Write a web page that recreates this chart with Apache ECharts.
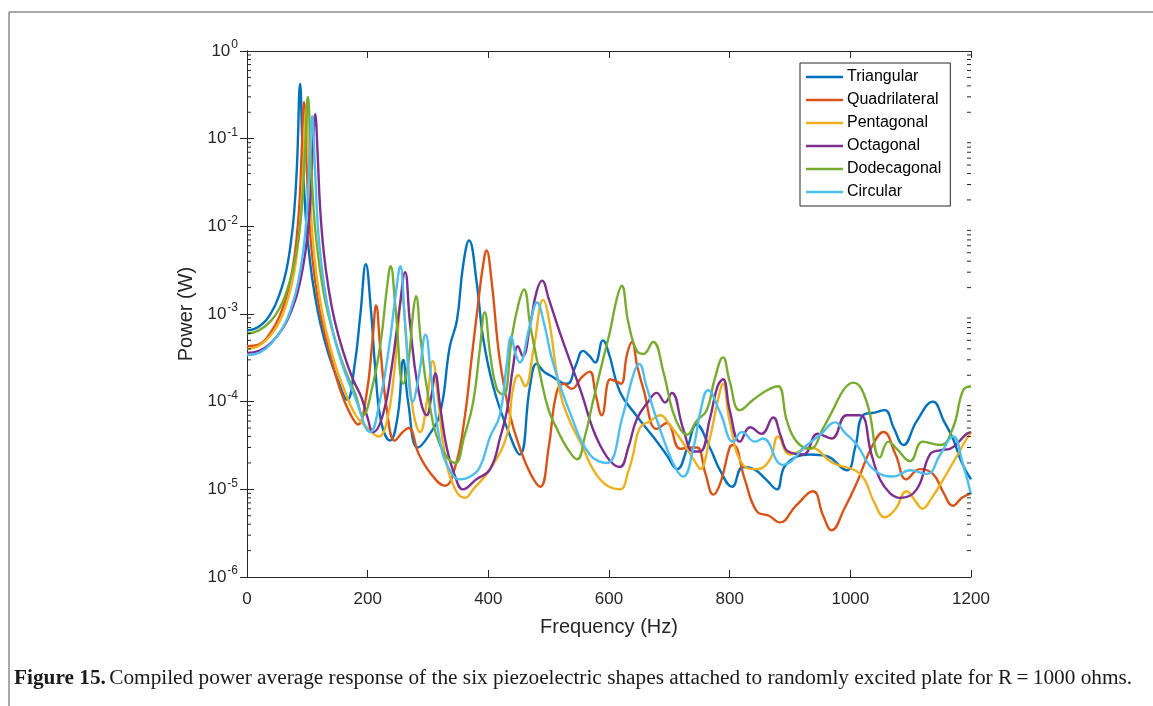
<!DOCTYPE html>
<html>
<head>
<meta charset="utf-8">
<title>Power response</title>
<script src="https://cdn.jsdelivr.net/npm/echarts@6/dist/echarts.min.js"></script>
<style>
  html, body { margin: 0; padding: 0; background: #fff; }
  #chart { width: 1153px; height: 706px; }
</style>
</head>
<body>
<div id="chart"></div>
<script>
// Series names and colours (MATLAB default line order)
const seriesNames = ['Triangular', 'Quadrilateral', 'Pentagonal', 'Octagonal', 'Dodecagonal', 'Circular'];
const seriesColors = ['#0072BD', '#D95319', '#EDB120', '#7E2F8E', '#77AC30', '#4DBEEE'];

// X-axis tick values (Hz)
const freqTicks = [0, 200, 400, 600, 800, 1000, 1200];
// Y-axis decades (W)
const powerDecades = [1e-6, 1e-5, 1e-4, 1e-3, 1e-2, 1e-1, 1];

// Triangular: frequency (Hz) / power (W)
const triFreq = [0,20,40,55,65,72,78,83,88,92,97,104,112,122,135,150,166,178,188,197,205,213,222,237,250,259,267,283,300,320,336,348,358,368,381,391,408,431,452,469,480,492,502,530,545,557,568,577,590,600,618,645,673,695,713,730,745,767,785,804,822,840,860,878,893,933,960,994,1008,1021,1040,1057,1072,1088,1110,1137,1155,1170,1185,1200];
const triPower = [6.5e-4,7.2e-4,1.03e-3,1.76e-3,3.1e-3,6e-3,1.4e-2,5.3e-2,0.42,7.5e-2,1.4e-2,4.2e-3,1.7e-3,7.6e-4,3.5e-4,1.8e-4,1.05e-4,2.5e-4,1e-3,3.7e-3,1.2e-3,2.2e-4,6e-5,3.6e-5,7e-5,3e-4,1e-4,3e-5,4e-5,7.4e-5,4.2e-4,8.5e-4,3.5e-3,6.9e-3,2.2e-3,5.5e-4,1.5e-4,5e-5,2.5e-5,1.5e-4,2.7e-4,2.2e-4,2e-4,1.6e-4,2.6e-4,3.8e-4,3.3e-4,2.8e-4,5e-4,3.5e-4,1.3e-4,7e-5,4e-5,2.5e-5,1.7e-5,3e-5,5.5e-5,3e-5,1.6e-5,1.07e-5,1.8e-5,1.7e-5,1.3e-5,1e-5,1.9e-5,2.5e-5,2.4e-5,1.65e-5,3e-5,7e-5,7.5e-5,8e-5,5e-5,3.2e-5,6e-5,1e-4,6e-5,3.8e-5,2e-5,1.3e-5];

// Quadrilateral
const quadFreq = [0,20,40,55,65,75,82,87,91,94.5,98,102,108,116,125,140,154,170,184,198,208,214,221,232,245,258,268,285,305,328,345,360,372,383,391,397,405,419,436,452,470,486,500,513,525,538,555,568,578,588,602,612,620,630,638,647,657,679,696,718,735,746,760,773,785,800,806,825,845,865,883,910,938,955,969,990,1011,1035,1055,1075,1093,1115,1137,1155,1170,1185,1200];
const quadPower = [4.3e-4,4.5e-4,6.3e-4,9.8e-4,1.55e-3,3.1e-3,7e-3,1.85e-2,8e-2,0.26,7.5e-2,1.6e-2,4.6e-3,1.7e-3,7.7e-4,3e-4,1.4e-4,7.5e-5,5.5e-5,1.2e-4,5e-4,1.25e-3,4e-4,8e-5,3.6e-5,4.5e-5,5e-5,2.5e-5,1.5e-5,1.1e-5,1.8e-5,6e-5,3e-4,1.3e-3,3.5e-3,5.3e-3,2.5e-3,3e-4,7e-5,3e-5,1.5e-5,1.07e-5,3e-5,1.26e-4,1.6e-4,1.4e-4,1.9e-4,2.2e-4,1.2e-4,7e-5,1.8e-4,1.7e-4,1.6e-4,3.5e-4,4.8e-4,2.5e-4,1.4e-4,4.9e-5,5.7e-5,2.9e-5,3e-5,3e-5,1.5e-5,8.7e-6,1.2e-5,3e-5,3.2e-5,1.3e-5,5.6e-6,5e-6,4.2e-6,6.5e-6,9.5e-6,5e-6,3.4e-6,6e-6,1.2e-5,3e-5,4.5e-5,2.5e-5,1.3e-5,1.7e-5,1.5e-5,9e-6,6.5e-6,8e-6,9e-6];

// Pentagonal
const pentFreq = [0,20,40,55,65,75,82,88,93,98,102,106,112,120,130,145,160,180,200,218,232,245,257,265,275,287,298,308,316,328,345,361,375,403,431,440,450,461,475,491,500,519,535,552,585,618,632,640,651,668,685,700,718,746,751,767,780,789,800,822,845,867,880,900,933,971,1016,1040,1057,1075,1093,1110,1119,1135,1154,1175,1193,1200];
const pentPower = [4e-4,4.35e-4,5.8e-4,8.5e-4,1.28e-3,2.3e-3,4.4e-3,1.07e-2,4e-2,0.22,5.8e-2,1.4e-2,4.3e-3,1.6e-3,6.9e-4,2.8e-4,1.44e-4,7e-5,5e-5,4e-5,6e-5,2.5e-4,1.5e-3,4e-4,8e-5,4.5e-5,1e-4,2.9e-4,1.2e-4,2.5e-5,1e-5,8e-6,1e-5,1.7e-5,4.2e-5,1.3e-4,2e-4,1.5e-4,4e-4,1.45e-3,9e-4,1.26e-4,6e-5,3.5e-5,1.3e-5,1e-5,1.6e-5,2.5e-5,5e-5,6e-5,7e-5,5.5e-5,3.8e-5,1.9e-5,1.7e-5,3.8e-5,1e-4,1.6e-4,6e-5,1.9e-5,1.7e-5,2.2e-5,4e-5,2.5e-5,3e-5,2e-5,1.5e-5,7e-6,4.8e-6,6e-6,9.5e-6,7e-6,6e-6,8e-6,1.3e-5,2.3e-5,3.8e-5,4.5e-5];

// Octagonal
const octFreq = [0,20,40,60,75,85,93,100,105,109,113,117,121,127,135,145,160,175,190,200,209,225,240,253,262,270,283,298,306,312,320,331,345,358,380,403,420,431,441,449,457,470,480,489,500,519,552,585,618,632,646,665,679,693,704,723,740,751,767,780,789,800,817,834,853,872,885,897,922,946,969,994,1016,1035,1049,1066,1082,1110,1132,1150,1165,1193,1200];
const octPower = [3.6e-4,3.8e-4,4.7e-4,7e-4,1.15e-3,1.9e-3,3.5e-3,7.6e-3,1.9e-2,7.4e-2,0.19,6.9e-2,1.7e-2,5.2e-3,2e-3,8.6e-4,3.6e-4,1.84e-4,1.1e-4,6.5e-5,4.5e-5,7e-5,2.5e-4,1.2e-3,3e-3,8e-4,1.5e-4,7e-5,1.2e-4,2.1e-4,9e-5,3e-5,1.4e-5,1e-5,1.3e-5,1.7e-5,4e-5,8e-5,2.5e-4,4.3e-4,3.3e-4,8e-4,1.8e-3,2.4e-3,1.5e-3,6e-4,1.4e-4,3.2e-5,1.8e-5,3e-5,6.3e-5,1e-4,1.26e-4,9.8e-5,1.26e-4,4.9e-5,2.7e-5,2.7e-5,6.3e-5,1.5e-4,1.8e-4,8e-5,3.5e-5,5.1e-5,4.3e-5,6.6e-5,4e-5,2.7e-5,2.5e-5,4.3e-5,3.8e-5,7e-5,7e-5,2.5e-5,1.3e-5,9e-6,8e-6,1e-5,2.5e-5,2.8e-5,2.9e-5,4.3e-5,4.5e-5];

// Dodecagonal
const dodFreq = [0,20,40,55,65,75,83,90,96,101,105,110,116,125,135,150,165,180,192,208,222,232,238,246,259,268,275,280,288,300,320,345,360,375,386,394,403,414,425,439,450,459,470,486,500,513,530,547,560,573,590,602,613,621,632,646,657,673,690,705,718,729,745,762,775,789,800,817,839,862,880,895,911,933,955,971,990,1005,1027,1049,1063,1077,1099,1120,1149,1170,1187,1200];
const dodPower = [6e-4,6.5e-4,8.4e-4,1.2e-3,1.75e-3,3e-3,5.7e-3,1.4e-2,6.4e-2,0.3,9e-2,1.7e-2,5.9e-3,2.1e-3,9.7e-4,4.1e-4,2.1e-4,1.2e-4,7e-5,1.5e-4,5e-4,2e-3,3.5e-3,1.2e-3,1.6e-4,3e-4,1e-3,1.6e-3,5e-4,1.2e-4,3.2e-5,2e-5,4e-5,1e-4,4e-4,1.05e-3,3.5e-4,1.4e-4,1.2e-4,5.5e-4,1.3e-3,1.9e-3,7e-4,2e-4,8e-5,5e-5,3e-5,2.2e-5,4e-5,9.8e-5,3e-4,6.5e-4,1.5e-3,2.1e-3,8e-4,3.8e-4,3.5e-4,4.8e-4,2.2e-4,8e-5,4.9e-5,4.2e-5,6e-5,8e-5,1.8e-4,3.2e-4,1.7e-4,8e-5,1.05e-4,1.35e-4,1.5e-4,6e-5,3.5e-5,2.9e-5,5e-5,8e-5,1.4e-4,1.65e-4,1e-4,2.3e-5,3.5e-5,2.9e-5,2.1e-5,3.5e-5,3.2e-5,5e-5,1.35e-4,1.5e-4];

// Circular
const circFreq = [0,20,40,60,75,85,93,99,104,108,112,117,124,132,145,160,180,204,220,235,247,254,262,275,285,296,305,320,335,353,370,386,403,419,430,438,445,452,468,481,492,507,535,568,596,623,640,650,662,679,706,723,740,752,764,784,806,820,842,855,888,928,950,975,990,1011,1038,1071,1099,1127,1149,1170,1187,1200];
const circPower = [3.4e-4,3.6e-4,4.6e-4,7.1e-4,1.27e-3,2.35e-3,5.1e-3,1.33e-2,6.4e-2,0.18,6e-2,1.1e-2,3.4e-3,1.4e-3,5.3e-4,2.4e-4,1.08e-4,4.5e-5,1e-4,4e-4,1.8e-3,3.5e-3,8e-4,1e-4,2e-4,5.8e-4,2e-4,3.5e-5,1.7e-5,1.3e-5,1.4e-5,1.8e-5,4e-5,7e-5,2.5e-4,5.5e-4,3.5e-4,2.8e-4,7e-4,1.35e-3,8e-4,2.8e-4,7.6e-5,2.5e-5,2e-5,7e-5,2e-4,2.7e-4,1.5e-4,6.3e-5,2e-5,1.4e-5,3e-5,8e-5,1.35e-4,7.6e-5,3.5e-5,4.5e-5,3.5e-5,3.8e-5,1.9e-5,3.2e-5,4.2e-5,5.8e-5,4.5e-5,3.2e-5,1.7e-5,1.4e-5,1.65e-5,1.5e-5,2.5e-5,4e-5,1.9e-5,8.7e-6];

const freqSets = [triFreq, quadFreq, pentFreq, octFreq, dodFreq, circFreq];
const powerSets = [triPower, quadPower, pentPower, octPower, dodPower, circPower];

// Minor log ticks (2..9 within each decade)
const minorTickValues = [];
for (let e = -6; e < 0; e++) {
  for (let m = 2; m <= 9; m++) minorTickValues.push(m * Math.pow(10, e));
}

const axisColor = '#262626';
const tickFont = 'Liberation Sans, Arial, sans-serif';

function expLabel(v) {
  const e = Math.round(Math.log10(v));
  return '{b|10}{e|' + e + '}';
}

const lineSeries = seriesNames.map((name, i) => ({
  name: name,
  type: 'line',
  xAxisIndex: 0,
  yAxisIndex: 0,
  data: freqSets[i].map((f, k) => [f, powerSets[i][k]]),
  showSymbol: false,
  smooth: 0.45,
  lineStyle: { color: seriesColors[i], width: 2.4 },
  itemStyle: { color: seriesColors[i] },
  z: 3 + i,
  animation: false
}));

// Minor ticks drawn on the left and right edges of the box
const minorTickSeries = {
  type: 'custom',
  xAxisIndex: 0,
  yAxisIndex: 0,
  silent: true,
  clip: false,
  animation: false,
  data: minorTickValues.map(v => [0, v]),
  renderItem: function (params, api) {
    const v = api.value(1);
    const pl = api.coord([0, v]);
    const pr = api.coord([1200, v]);
    return {
      type: 'group',
      children: [
        { type: 'line', shape: { x1: pl[0], y1: pl[1], x2: pl[0] + 4, y2: pl[1] }, style: { stroke: axisColor, lineWidth: 1 } },
        { type: 'line', shape: { x1: pr[0], y1: pr[1], x2: pr[0] - 4, y2: pr[1] }, style: { stroke: axisColor, lineWidth: 1 } }
      ]
    };
  },
  z: 10
};

const chart = echarts.init(document.getElementById('chart'), null, { renderer: 'canvas' });

chart.setOption({
  backgroundColor: '#ffffff',
  animation: false,
  grid: { left: 247, right: 182, top: 51, bottom: 129, containLabel: false },
  legend: {
    data: seriesNames.map(n => ({ name: n, icon: 'rect' })),
    orient: 'vertical',
    left: 800,
    top: 63,
    itemWidth: 37,
    itemHeight: 2.5,
    itemGap: 7,
    padding: [6, 9, 6, 6],
    borderColor: axisColor,
    borderWidth: 1,
    backgroundColor: '#ffffff',
    textStyle: { fontFamily: tickFont, fontSize: 16, color: '#000000', padding: [0, 0, 0, -1] }
  },
  xAxis: [
    {
      type: 'value',
      min: freqTicks[0],
      max: freqTicks[freqTicks.length - 1],
      interval: 200,
      position: 'bottom',
      name: 'Frequency (Hz)',
      nameLocation: 'middle',
      nameGap: 40,
      nameTextStyle: { fontFamily: tickFont, fontSize: 20, color: axisColor },
      axisLine: { show: true, lineStyle: { color: axisColor, width: 1 } },
      axisTick: { show: true, inside: true, length: 7, lineStyle: { color: axisColor } },
      axisLabel: { fontFamily: tickFont, fontSize: 17, color: axisColor, margin: 14, formatter: v => String(v) },
      splitLine: { show: false }
    },
    {
      type: 'value',
      min: freqTicks[0],
      max: freqTicks[freqTicks.length - 1],
      interval: 200,
      position: 'top',
      axisLine: { show: true, lineStyle: { color: axisColor, width: 1 } },
      axisTick: { show: true, inside: true, length: 7, lineStyle: { color: axisColor } },
      axisLabel: { show: false },
      splitLine: { show: false }
    }
  ],
  yAxis: [
    {
      type: 'log',
      logBase: 10,
      min: powerDecades[0],
      max: powerDecades[powerDecades.length - 1],
      position: 'left',
      name: 'Power (W)',
      nameLocation: 'middle',
      nameGap: 47,
      nameRotate: 90,
      nameTextStyle: { fontFamily: tickFont, fontSize: 20, color: axisColor },
      axisLine: { show: true, lineStyle: { color: axisColor, width: 1 } },
      axisTick: { show: true, inside: true, length: 7, lineStyle: { color: axisColor } },
      axisLabel: {
        margin: 9,
        formatter: expLabel,
        rich: {
          b: { fontFamily: tickFont, fontSize: 17, color: axisColor },
          e: { fontFamily: tickFont, fontSize: 12, color: axisColor, padding: [0, 0, 12, 1] }
        }
      },
      splitLine: { show: false }
    },
    {
      type: 'log',
      logBase: 10,
      min: powerDecades[0],
      max: powerDecades[powerDecades.length - 1],
      position: 'right',
      axisLine: { show: true, lineStyle: { color: axisColor, width: 1 } },
      axisTick: { show: true, inside: true, length: 7, lineStyle: { color: axisColor } },
      axisLabel: { show: false },
      splitLine: { show: false }
    }
  ],
  graphic: [
    { type: 'line', shape: { x1: 9, y1: 12, x2: 1153, y2: 12 }, style: { stroke: '#8c8c8c', lineWidth: 1.5 }, silent: true },
    { type: 'line', shape: { x1: 9, y1: 12, x2: 9, y2: 706 }, style: { stroke: '#8c8c8c', lineWidth: 1.5 }, silent: true },
    {
      type: 'text',
      left: 14,
      top: 668,
      silent: true,
      style: {
        text: '{b|Figure 15.} {n|Compiled power average response of the six piezoelectric shapes attached to randomly excited plate for R\u2009=\u20091000 ohms.}',
        rich: {
          b: { fontFamily: 'Liberation Serif, Times New Roman, serif', fontWeight: 'bold', fontSize: 21.3, fill: '#1a1a1a' },
          n: { fontFamily: 'Liberation Serif, Times New Roman, serif', fontSize: 21.3, fill: '#1a1a1a' }
        }
      }
    }
  ],
  series: lineSeries.concat([minorTickSeries])
});
</script>
</body>
</html>
